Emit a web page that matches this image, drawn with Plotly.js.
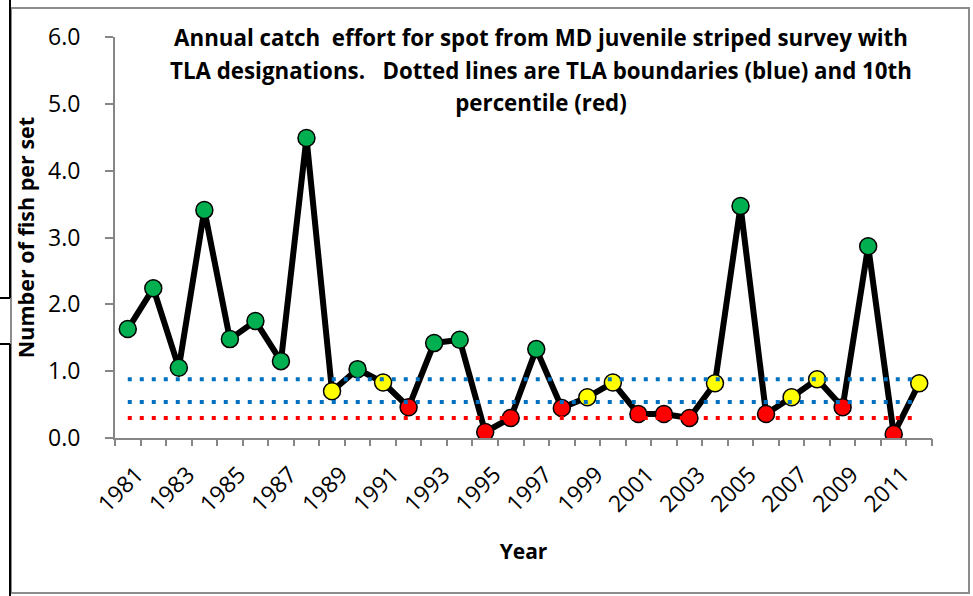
<!DOCTYPE html>
<html>
<head>
<meta charset="utf-8">
<script src="https://cdn.plot.ly/plotly-3.0.1.min.js"></script>
<style>html,body{margin:0;padding:0;background:#fff;}#chart{width:973px;height:596px;}</style>
</head>
<body>
<div id="chart"></div>
<script>
// ---- data ----
const years = [1981,1982,1983,1984,1985,1986,1987,1988,1989,1990,1991,1992,1993,1994,1995,1996,
               1997,1998,1999,2000,2001,2002,2003,2004,2005,2006,2007,2008,2009,2010,2011,2012];
const fishPerSet = [1.63,2.24,1.05,3.41,1.48,1.75,1.15,4.49,0.70,1.03,0.83,0.46,1.42,1.47,0.09,0.30,
                    1.33,0.45,0.61,0.83,0.36,0.36,0.30,0.82,3.47,0.36,0.61,0.88,0.46,2.87,0.06,0.82];
const tlaStatus = ['G','G','G','G','G','G','G','G','Y','G','Y','R','G','G','R','R',
                   'G','R','Y','Y','R','R','R','Y','G','R','Y','Y','R','G','R','Y'];
const tlaUpper = 0.88;      // upper TLA boundary (blue)
const tlaLower = 0.54;      // lower TLA boundary (blue)
const percentile10 = 0.30;  // 10th percentile (red)
const yTickVals = [0,1,2,3,4,5,6];
const xTickLabels = ['1981','1983','1985','1987','1989','1991','1993','1995','1997','1999','2001','2003','2005','2007','2009','2011'];

// ---- styling ----
const statusColor = {G:'#00B050', Y:'#FFFF00', R:'#FF0000'};
const W = 973, H = 596, M = {l:115, r:41, t:37, b:158};
const pw = W - M.l - M.r, ph = H - M.t - M.b;
const px = x => (x - M.l) / pw;
const py = y => (H - M.b - y) / ph;
const FONT = 'Open Sans, Liberation Sans, sans-serif';
const xRange = [years[0] - 0.5, years[years.length-1] + 0.5];
// category boundaries (tick marks sit between years, as in a category axis)
const boundaries = years.map(y => y - 0.5).concat([years[years.length-1] + 0.5]);

const xEnds = [years[0], years[years.length-1]];
function hline(val, color){
  return {x: xEnds, y: [val, val], type:'scatter', mode:'lines', hoverinfo:'skip', showlegend:false,
          xaxis:'x2', line:{color: color, width:4, dash:'4px,8px'}};
}

const traces = [
  hline(tlaUpper, '#0070C0'),
  hline(tlaLower, '#0070C0'),
  hline(percentile10, '#FF0000'),
  {x: years, y: fishPerSet, type:'scatter', mode:'lines+markers', showlegend:false,
   line:{color:'#000', width:6},
   marker:{size:17, color: tlaStatus.map(s => statusColor[s]), line:{color:'#000', width:1.5}}}
];

function ln(x0,y0,x1,y1,color,w){
  return {type:'line', xref:'paper', yref:'paper', x0:px(x0), y0:py(y0), x1:px(x1), y1:py(y1),
          line:{color:color, width:w}};
}

const sp = s => '<span style="font-size:22.3px">' + s + '</span>';
const titleText = sp('Annual catch\u00A0\u00A0effort for spot from MD juvenile striped survey with') + '<br>' +
                  sp('TLA designations.\u00A0\u00A0\u00A0Dotted lines are TLA boundaries (blue) and 10th') + '<br>' +
                  sp('percentile (red)');

const layout = {
  width: W, height: H,
  margin: M,
  paper_bgcolor:'#fff', plot_bgcolor:'#fff',
  font:{family: FONT, color:'#000'},
  showlegend:false,
  title:{text: titleText, font:{family:FONT, size:25, color:'#000', weight:'bold'},
         xref:'paper', x: px(541), xanchor:'center', yref:'container', y: 1 - 46/H, yanchor:'top'},
  xaxis:{
    range:xRange, tickmode:'array', tickvals: xTickLabels.map(Number), ticktext: xTickLabels,
    ticks:'', tickangle:-45, tickfont:{family:FONT, size:23, color:'#000'},
    ticklabelshift:9, ticklabelstandoff:12,
    showline:true, linecolor:'#868686', linewidth:2, showgrid:false, zeroline:false,
    title:{text:'<b>Year</b>', font:{family:FONT, size:21, color:'#000'}, standoff:27}
  },
  xaxis2:{
    overlaying:'x', anchor:'y', side:'bottom', range:xRange,
    tickmode:'array', tickvals: boundaries, showticklabels:false,
    ticks:'outside', ticklen:7, tickcolor:'#868686', tickwidth:2,
    showline:false, showgrid:false, zeroline:false
  },
  yaxis:{
    range:[0,6], tickmode:'array', tickvals: yTickVals, tickformat:'.1f',
    ticks:'outside', ticklen:8, tickcolor:'#868686', tickwidth:2,
    tickfont:{family:FONT, size:23, color:'#000'}, ticklabelstandoff:20,
    showline:true, linecolor:'#868686', linewidth:2, showgrid:false, zeroline:false,
    title:{text:'<b>Number of fish per set</b>', font:{family:FONT, size:21.5, color:'#000'}, standoff:8}
  },
  shapes:[
    // outer grey chart frame
    {type:'rect', xref:'paper', yref:'paper', x0:px(11), x1:px(969), y0:py(593), y1:py(8),
     line:{color:'#8c8c8c', width:2}, fillcolor:'rgba(0,0,0,0)'},
    // black frame fragments on the left edge
    ln(10,0,10,298,'#000',2), ln(0,298,10,298,'#000',2),
    ln(0,344,10,344,'#000',2), ln(10,344,10,596,'#000',2)
  ]
};

Plotly.newPlot('chart', traces, layout, {staticPlot:true, displayModeBar:false});
</script>
</body>
</html>
